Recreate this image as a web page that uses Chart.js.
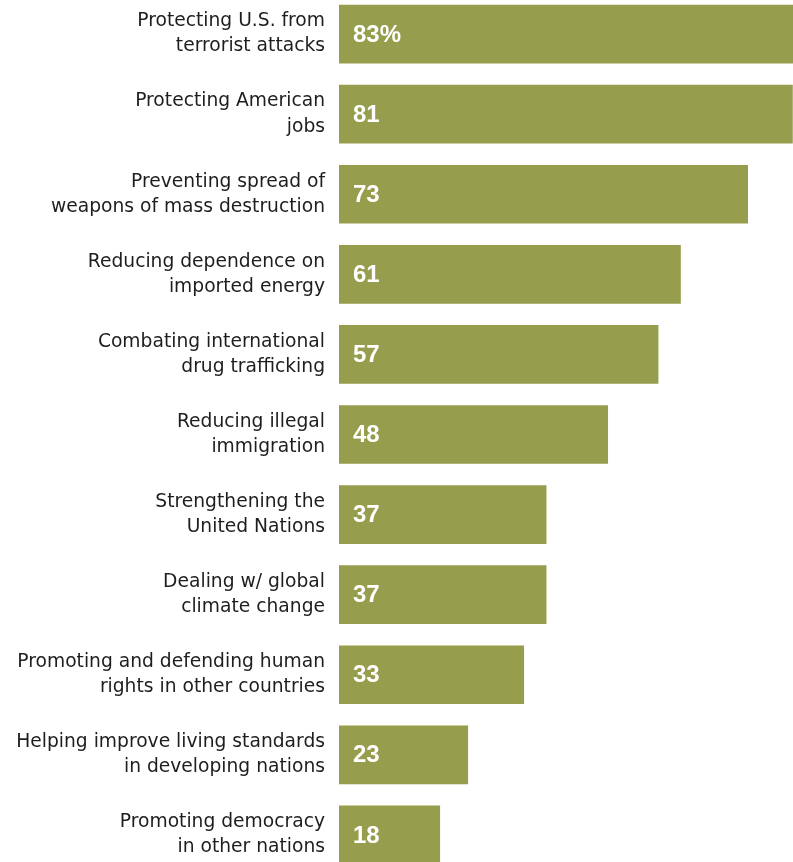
<!DOCTYPE html>
<html>
<head>
<meta charset="utf-8">
<script src="https://cdn.jsdelivr.net/npm/chart.js@4.4.1/dist/chart.umd.min.js"></script>
<style>
    html, body { margin: 0; padding: 0; background: #fff; overflow: hidden; }
    #wrap { position: relative; width: 793px; height: 862px; overflow: hidden; }
    #priorityChart { position: absolute; left: 0; top: -6px; }
</style>
</head>
<body>
<div id="wrap">
    <canvas id="priorityChart" width="793" height="881"></canvas>
</div>
<script>
const categories = [
    ['Protecting U.S. from', 'terrorist attacks'],
    ['Protecting American', 'jobs'],
    ['Preventing spread of', 'weapons of mass destruction'],
    ['Reducing dependence on', 'imported energy'],
    ['Combating international', 'drug trafficking'],
    ['Reducing illegal', 'immigration'],
    ['Strengthening the', 'United Nations'],
    ['Dealing w/ global', 'climate change'],
    ['Promoting and defending human', 'rights in other countries'],
    ['Helping improve living standards', 'in developing nations'],
    ['Promoting democracy', 'in other nations']
];
const values = [83, 81, 73, 61, 57, 48, 37, 37, 33, 23, 18];
const valueLabels = ['83%', '81', '73', '61', '57', '48', '37', '37', '33', '23', '18'];

// white numbers written inside the left end of each bar
const barValues = {
    id: 'barValues',
    afterDatasetsDraw(chart) {
        const c = chart.ctx;
        const bars = chart.getDatasetMeta(0).data;
        c.save();
        c.fillStyle = '#ffffff';
        c.font = 'bold 24px "Liberation Sans", Arial, sans-serif';
        c.textAlign = 'left';
        c.textBaseline = 'middle';
        bars.forEach((bar, i) => {
            c.fillText(valueLabels[i], bar.base + 14, bar.y + 1);
        });
        c.restore();
    }
};

const ctx = document.getElementById('priorityChart').getContext('2d');
const priorityChart = new Chart(ctx, {
    type: 'bar',
    data: {
        labels: categories,
        datasets: [{
            data: values,
            backgroundColor: '#969d4c',
            borderWidth: 0,
            barThickness: 58
        }]
    },
    options: {
        indexAxis: 'y',
        responsive: false,
        animation: false,
        devicePixelRatio: 1,
        layout: { padding: 0 },
        plugins: {
            legend: { display: false },
            tooltip: { enabled: false }
        },
        scales: {
            x: {
                display: false,
                min: 0,
                max: 81.1
            },
            y: {
                border: { display: false },
                grid: { display: false, drawTicks: false },
                ticks: {
                    color: '#1e1e1e',
                    padding: 14,
                    font: { family: '"DejaVu Sans", sans-serif', size: 18.7, lineHeight: 1.34 }
                },
                afterFit(scale) {
                    scale.width = 339;
                    // no extra room above the first / below the last label
                    scale.paddingTop = 0;
                    scale.paddingBottom = 0;
                }
            }
        }
    },
    plugins: [barValues]
});
</script>
</body>
</html>
